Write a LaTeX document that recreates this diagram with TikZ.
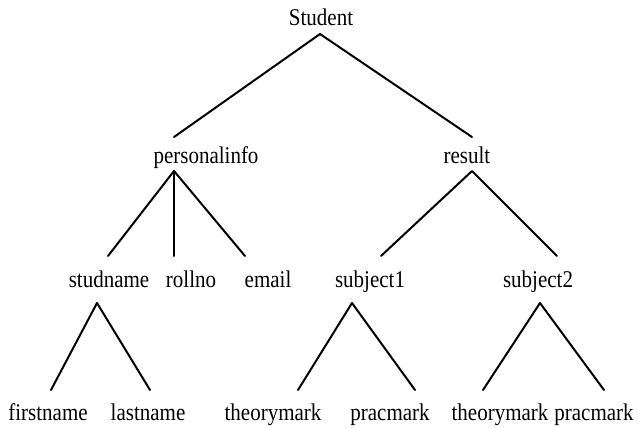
\documentclass[tikz,border=0pt]{standalone}
\usepackage{fontspec}
\setmainfont{Liberation Serif}
\begin{document}
\begin{tikzpicture}[x=1pt,y=-1pt,
  lbl/.style={inner sep=0pt,anchor=base,font=\fontsize{24}{26}\selectfont},
  edge/.style={line width=2pt,line cap=round,line join=round}]
\useasboundingbox (0,0) rectangle (638,428);
\newcommand{\tx}[1]{\scalebox{0.875}[1]{#1}}
% labels
\node[lbl] (student) at (321,26) {\tx{Student}};
\node[lbl] (personalinfo) at (206,164) {\tx{personalinfo}};
\node[lbl] (result) at (467,164) {\tx{result}};
\node[lbl] (studname) at (109,287) {\tx{studname}};
\node[lbl] (rollno) at (191,287) {\tx{rollno}};
\node[lbl] (email) at (268,287) {\tx{email}};
\node[lbl] (subject1) at (370,287) {\tx{subject1}};
\node[lbl] (subject2) at (538,287) {\tx{subject2}};
\node[lbl] (firstname) at (48,420) {\tx{firstname}};
\node[lbl] (lastname) at (148,420) {\tx{lastname}};
\node[lbl] (theorymarkA) at (273,420) {\tx{theorymark}};
\node[lbl] (pracmarkA) at (390,420) {\tx{pracmark}};
\node[lbl] (theorymarkB) at (500,420) {\tx{theorymark}};
\node[lbl] (pracmarkB) at (594,420) {\tx{pracmark}};
% connector points
\coordinate (sTop) at (320,34);
\coordinate (sL) at (174,137);
\coordinate (sR) at (472,137);
\coordinate (pTop) at (174,171);
\coordinate (pA) at (108,256);
\coordinate (pB) at (174,256);
\coordinate (pC) at (245,256);
\coordinate (rTop) at (472,171);
\coordinate (rA) at (381,256);
\coordinate (rB) at (557,256);
\coordinate (nTop) at (97,303);
\coordinate (nA) at (51,390);
\coordinate (nB) at (150,390);
\coordinate (aTop) at (352,303);
\coordinate (aA) at (298,390);
\coordinate (aB) at (415,390);
\coordinate (bTop) at (540,303);
\coordinate (bA) at (483,390);
\coordinate (bB) at (604,390);
% connectors
\draw[edge] (sL) -- (sTop) -- (sR);
\draw[edge] (pA) -- (pTop) -- (pC);
\draw[edge] (pTop) -- (pB);
\draw[edge] (rA) -- (rTop) -- (rB);
\draw[edge] (nA) -- (nTop) -- (nB);
\draw[edge] (aA) -- (aTop) -- (aB);
\draw[edge] (bA) -- (bTop) -- (bB);
\end{tikzpicture}
\end{document}
